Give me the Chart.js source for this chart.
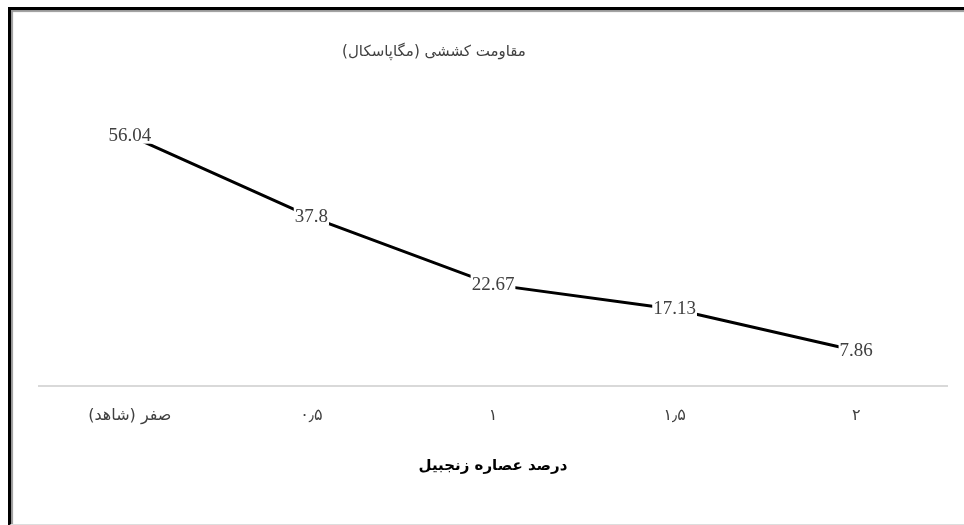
<!DOCTYPE html>
<html>
<head>
  <title>Tensile Strength Chart</title>
  <script src="https://cdn.jsdelivr.net/npm/chart.js"></script>
  <style>
    body { margin: 0; background: #fff; }
    #wrap { position: relative; width: 964px; height: 525px; overflow: hidden; }
    #frame { position: absolute; left: 8px; top: 7px; width: 1000px; height: 514px;
             border-left: 3px solid #000; border-top: 3px solid #000; border-bottom: 2px solid #ddd;
             box-shadow: inset 2px 2px 1px #999; pointer-events: none; }
    canvas { position: absolute; left: 0; top: 0; }
  </style>
</head>
<body>
<div id="wrap">
  <canvas id="strengthChart" width="964" height="525"></canvas>
  <div id="frame"></div>
</div>
<script>
const categories = ['صفر (شاهد)', '۰٫۵', '۱', '۱٫۵', '۲'];
const strength = [56.04, 37.8, 22.67, 17.13, 7.86];
const chartTitle = 'مقاومت کششی (مگاپاسکال)';
const xTitle = 'درصد عصاره زنجبیل';

// Excel style labels sit on the point with a white box behind them
const pointLabels = {
  id: 'pointLabels',
  afterDatasetsDraw(chart) {
    const ctx = chart.ctx;
    const meta = chart.getDatasetMeta(0);
    ctx.save();
    ctx.font = '19px "Liberation Serif", "Times New Roman", serif';
    ctx.textAlign = 'center';
    ctx.textBaseline = 'middle';
    meta.data.forEach((pt, i) => {
      const txt = String(strength[i]);
      const w = ctx.measureText(txt).width;
      ctx.fillStyle = '#fff';
      ctx.fillRect(pt.x - w / 2 - 1, pt.y - 10, w + 2, 18);
      ctx.fillStyle = '#404040';
      ctx.fillText(txt, pt.x, pt.y);
    });
    ctx.restore();
  }
};

const titleText = {
  id: 'titleText',
  afterDraw(chart) {
    const ctx = chart.ctx;
    ctx.save();
    ctx.font = '15px "DejaVu Sans", sans-serif';
    ctx.fillStyle = '#404040';
    ctx.textAlign = 'center';
    ctx.textBaseline = 'middle';
    ctx.fillText(chartTitle, 434, 52);
    ctx.restore();
  }
};

const ctx = document.getElementById('strengthChart').getContext('2d');
const chart = new Chart(ctx, {
  type: 'line',
  data: {
    labels: categories,
    datasets: [{
      data: strength,
      borderColor: '#000',
      borderWidth: 3,
      pointRadius: 0,
      fill: false,
      tension: 0
    }]
  },
  options: {
    responsive: false,
    animation: false,
    layout: { padding: { left: 39, right: 17, top: 118, bottom: 50 } },
    plugins: { legend: { display: false }, tooltip: { enabled: false } },
    scales: {
      y: { display: false, min: 0, max: 60 },
      x: {
        offset: true,
        grid: { display: false },
        border: { display: true, color: '#d9d9d9', width: 2 },
        ticks: {
          padding: 12,
          color: '#404040',
          font: { family: '"DejaVu Sans", sans-serif', size: 16 },
          maxRotation: 0
        },
        title: {
          display: true,
          text: xTitle,
          color: '#000',
          font: { family: '"DejaVu Sans", sans-serif', size: 15, weight: 'bold' },
          padding: { top: 20, bottom: 0 }
        }
      }
    }
  },
  plugins: [pointLabels, titleText]
});
</script>
</body>
</html>
